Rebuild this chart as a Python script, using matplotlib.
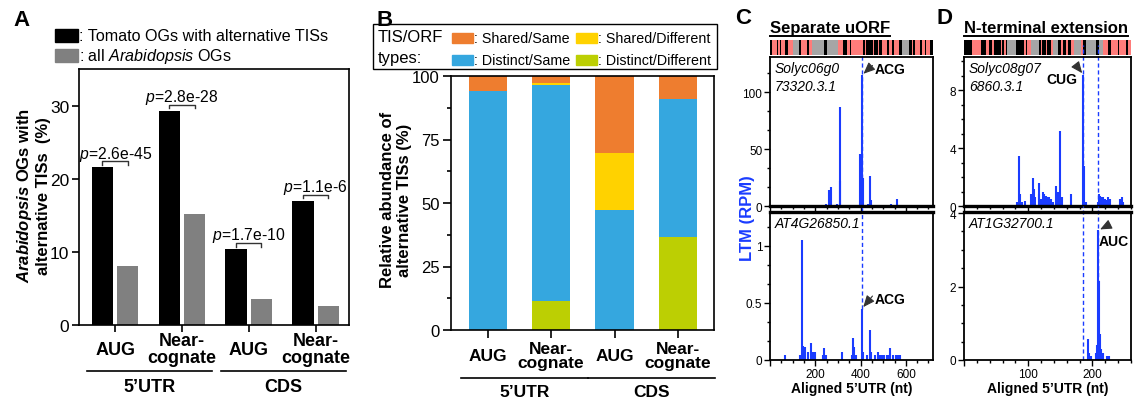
import matplotlib
matplotlib.use("Agg")
import matplotlib.pyplot as plt
import matplotlib.transforms as mtransforms
import numpy as np
from matplotlib.colors import ListedColormap
from matplotlib.lines import Line2D
from matplotlib.patches import Rectangle
from matplotlib.ticker import MultipleLocator, FuncFormatter

plt.rcParams['font.family'] = ['Liberation Sans', 'DejaVu Sans']
plt.rcParams['mathtext.fontset'] = 'custom'
plt.rcParams['mathtext.rm'] = 'Liberation Sans'
plt.rcParams['mathtext.it'] = 'Liberation Sans:italic'
plt.rcParams['mathtext.bf'] = 'Liberation Sans:bold'
plt.rcParams['mathtext.bfit'] = 'Liberation Sans:bold:italic'

W, H = 1135, 402

# ---- panel A data
a_codons = ['AUG', 'Near-\ncognate', 'AUG', 'Near-\ncognate']
a_regions = ['5\u2019UTR', 'CDS']
a_series = ['Tomato OGs with alternative TISs', 'all $Arabidopsis$ OGs']
a_tomato = [21.6, 29.3, 10.4, 17.0]
a_arabidopsis = [8.0, 15.2, 3.5, 2.6]
a_pvalues = ['2.6e-45', '2.8e-28', '1.7e-10', '1.1e-6']

# ---- panel B data (stacked from the bottom)
b_types = ['Distinct/Different', 'Distinct/Same', 'Shared/Different', 'Shared/Same']
b_distinct_diff = [0, 11.5, 0, 36.7]
b_distinct_same = [94.1, 84.8, 47.2, 54.3]
b_shared_diff = [0, 1.1, 22.4, 0]
b_shared_same = [5.9, 2.6, 30.4, 9.0]
b_colors = ['#bccf03', '#35a7df', '#ffd200', '#ee7d2f']

# ---- panel C data (separate uORF)
c_title = 'Separate uORF'
c_genes = ['Solyc06g0\n73320.3.1', 'AT4G26850.1']
c_tis = [406]
c_tis_codon = 'ACG'
c_sol_pos = [247, 259, 270, 296, 307, 310, 396, 400, 406, 410, 433, 443, 446, 536, 561]
c_sol_ltm = [2, 14, 17, 2, 87, 22, 45.6, 25, 115, 25, 2, 26.5, 5, 2, 5.9]
c_at_pos = [67, 132, 141, 147, 154, 170, 181, 188, 199, 236, 240, 247, 316, 361, 367, 373,
            381, 406, 412, 428, 441, 447, 462, 477, 484, 495, 505, 515, 525, 532, 545,
            555, 565, 575]
c_at_ltm = [0.04, 0.04, 1.05, 0.12, 0.11, 0.07, 0.15, 0.07, 0.07, 0.04, 0.105, 0.04, 0.07,
            0.04, 0.19, 0.11, 0.04, 0.45, 0.07, 0.04, 0.26, 0.07, 0.04, 0.07, 0.04, 0.04,
            0.04, 0.04, 0.04, 0.105, 0.04, 0.04, 0.04, 0.04]
c_strip = ''.join(['krrrkrkrrk', 'krrrggggkr', 'rrrkrrgggg', 'gggkkggggg', 'ggrrrkkrrk',
                   'rrrrrrrkrk', 'kkkrkkrkkr', 'rrkrrkrrrk', 'kggggkkrkr', 'rrkrrkrrkk'])

# ---- panel D data (N-terminal extension)
d_title = 'N-terminal extension'
d_genes = ['Solyc08g07\n6860.3.1', 'AT1G32700.1']
d_tis = [186, 209]
d_tis_codons = ['CUG', 'AUC']
d_sol_pos = [9, 30, 83, 86, 87.5, 90, 95, 105, 108, 109.5, 111, 116, 117, 120, 122.5, 125,
             128, 130, 133, 135.5, 138, 144, 146, 150, 152, 167, 186, 187.5, 189.5, 198,
             209, 210.5, 212, 214, 216, 218, 220, 222, 224, 226, 228, 243, 245.5, 248]
d_sol_ltm = [0.05, 0.05, 0.3, 3.45, 0.8, 0.3, 0.35, 0.8, 1.9, 1.2, 0.6, 1.6, 0.8, 0.5, 1.0,
             0.8, 0.7, 0.65, 0.6, 0.5, 0.3, 1.4, 1.0, 5.2, 0.6, 0.8, 9.05, 2.75, 0.3, 0.1,
             0.3, 0.85, 0.7, 0.6, 0.6, 0.5, 0.5, 0.4, 0.6, 0.3, 0.5, 0.5, 0.6, 0.3]
d_at_pos = [193, 194.5, 197.5, 206, 207.5, 209, 210.5, 212, 214, 216.5, 223, 225]
d_at_ltm = [0.57, 0.2, 0.1, 0.2, 0.4, 3.53, 2.15, 0.7, 0.3, 0.2, 0.1, 0.1]
d_strip = ''.join(['kkkkkrrrrr', 'kkkrrkkrkk', 'kkrkrkgggg', 'gkkkkkrkrr', 'gggggkrkkr',
                   'kkrgggkkrk', 'krkkrrgggg', 'rkkggggggk', 'kggrrrkkrr', 'rrkrrrrkrr'])

strip_keys = 'kgr'
strip_colors = ['#000000', '#a6a6a6', '#ff7c7a']
BLUE = '#1a3cff'

fig = plt.figure(figsize=(W / 100, H / 100), dpi=100)


def add_ax(left, top, right, bottom):
    # axes placed by the pixel edges of the reference
    return fig.add_axes([left / W, 1 - bottom / H, (right - left) / W, (bottom - top) / H])


def fig_text(x, y, s, **kw):
    return fig.text(x / W, 1 - y / H, s, **kw)


def fig_box(x0, y0, x1, y1, **kw):
    fig.add_artist(Rectangle((x0 / W, 1 - y1 / H), (x1 - x0) / W, (y1 - y0) / H,
                             transform=fig.transFigure, **kw))


def group_labels(ax, y_lab, y_line, y_reg, span, fs):
    tr = mtransforms.blended_transform_factory(ax.transData, ax.transAxes)
    for i, lab in enumerate(a_codons):
        ax.text(i, y_lab, lab, transform=tr, ha='center', va='center', fontsize=fs,
                fontweight='bold', linespacing=0.95)
    for r, reg in enumerate(a_regions):
        x0 = 2 * r - span[0]
        x1 = 2 * r + 1 + span[1]
        ax.add_line(Line2D([x0, x1], [y_line, y_line], transform=tr, color='black',
                           lw=1.2, clip_on=False))
        ax.text((x0 + x1) / 2, y_reg, reg, transform=tr, ha='center', va='center',
                fontsize=fs, fontweight='bold')


# ================= A
axA = add_ax(79, 70, 349, 326)
xa = np.arange(len(a_codons))
axA.bar(xa - 0.19, a_tomato, 0.32, color='black', zorder=2)
axA.bar(xa + 0.19, a_arabidopsis, 0.32, color='#808080', zorder=2)
axA.set_xlim(-0.54, 3.5)
axA.set_ylim(0, 35)
axA.set_yticks([0, 10, 20, 30])
axA.set_xticks(xa)
axA.set_xticklabels([])
axA.tick_params(direction='out', length=5, width=1.2, labelsize=12.5, pad=2)
for sp in axA.spines.values():
    sp.set_linewidth(1.2)
for i, p in enumerate(a_pvalues):
    yb = a_tomato[i] + 0.8
    axA.plot([i - 0.19, i - 0.19, i + 0.19, i + 0.19], [yb - 0.5, yb, yb, yb - 0.5],
             color='#333333', lw=1)
    axA.text(i, yb + 0.5, f'$p$={p}', ha='center', va='baseline', fontsize=11.3)
group_labels(axA, -0.094, -0.18, -0.242, (0.42, 0.45), 13)

fig_box(55, 30, 78, 43, color='black')
fig_box(55, 50, 78, 63, color='#808080')
fig_text(79, 36.5, ': ' + a_series[0], va='center', fontsize=11.6)
fig_text(79, 56.5, ': ' + a_series[1], va='center', fontsize=11.6)
fig_text(33, 196, r'$\mathbfit{Arabidopsis}$ OGs with' + '\n' + 'alternative TISs  (%)',
         rotation=90, ha='center', va='center', fontsize=12, fontweight='bold',
         linespacing=1.15)
fig_text(13, 26, 'A', fontsize=16, fontweight='bold', va='baseline')

# ================= B
axB = add_ax(451, 77, 714, 331)
xb = np.arange(len(a_codons))
bottom = np.zeros(len(xb))
for vals, col in zip([b_distinct_diff, b_distinct_same, b_shared_diff, b_shared_same], b_colors):
    axB.bar(xb, vals, 0.6, bottom=bottom, color=col, zorder=2)
    bottom += np.array(vals)
axB.set_xlim(-0.58, 3.57)
axB.set_ylim(0, 100)
axB.yaxis.set_major_locator(MultipleLocator(25))
axB.yaxis.set_minor_locator(MultipleLocator(12.5))
axB.set_xticks(xb)
axB.set_xticklabels([])
axB.tick_params(which='both', direction='out', width=1.2, labelsize=12, pad=2)
axB.tick_params(which='major', length=6)
axB.tick_params(which='minor', length=3)
for sp in axB.spines.values():
    sp.set_linewidth(1.2)
group_labels(axB, -0.1, -0.189, -0.244, (0.42, 0.58), 12.5)
fig_text(396, 200, 'Relative abundance of\nalternative TISs (%)', rotation=90, ha='center',
         va='center', fontsize=12, fontweight='bold', linespacing=1.1)

fig_box(373, 25, 717, 70, fill=False, edgecolor='black', lw=1)
fig_text(378, 48, 'TIS/ORF\ntypes:', va='center', ha='left', fontsize=12, linespacing=1.45)
for k, name in enumerate(b_types):
    row, col = (3 - k) // 2, (3 - k) % 2
    x0 = 452 + col * 124
    yc = 39 + row * 22
    fig_box(x0, yc - 5, x0 + 21, yc + 5, color=b_colors[k])
    fig_text(x0 + 22, yc, ': ' + name, va='center', fontsize=10.3)
fig_text(377, 26, 'B', fontsize=16, fontweight='bold', va='baseline')


# ================= C and D
def strip_axes(left, right, codes, xmax):
    ax = add_ax(left, 41, right, 56)
    arr = np.array([[strip_keys.index(c) for c in codes]])
    ax.imshow(arr, cmap=ListedColormap(strip_colors), vmin=0, vmax=2, aspect='auto',
              interpolation='nearest', extent=(0, xmax, 0, 1))
    ax.set_axis_off()
    return ax


def profile_axes(top, bottom, left, right, pos, val, ymax, ymaj, ymin, xmax, xmaj, xmin, upper):
    ax = add_ax(left, top, right, bottom)
    ax.vlines(pos, 0, val, color=BLUE, lw=1.5, zorder=2)
    ax.set_xlim(0, xmax)
    ax.set_ylim(0, ymax)
    ax.yaxis.set_major_locator(MultipleLocator(ymaj))
    ax.yaxis.set_minor_locator(MultipleLocator(ymin))
    ax.xaxis.set_major_locator(MultipleLocator(xmaj))
    ax.xaxis.set_minor_locator(MultipleLocator(xmin))
    ax.yaxis.set_major_formatter(FuncFormatter(lambda v, p: f'{v:g}'))
    ax.xaxis.set_major_formatter(FuncFormatter(lambda v, p: '' if v == 0 else f'{v:g}'))
    ax.tick_params(which='both', direction='out', width=1, labelsize=8.5, pad=1.5)
    ax.tick_params(which='major', length=4)
    ax.tick_params(which='minor', length=2.5)
    for sp in ax.spines.values():
        sp.set_linewidth(1.3)
    if upper:
        ax.tick_params(axis='x', labelbottom=False)
        ax.spines['bottom'].set_linewidth(2.4)
    else:
        ax.spines['top'].set_linewidth(2.4)
        ax.set_xlabel('Aligned 5\u2019UTR (nt)', fontsize=10, fontweight='bold', labelpad=1)
    return ax


def gene_label(ax, name):
    ax.text(0.03, 0.975, name, transform=ax.transAxes, ha='left', va='top', fontsize=10,
            style='italic', linespacing=1.4)


def mark_peak(ax, x, y, label, arrow_off, text_off, ha, va='center'):
    ax.annotate('', xy=(x, y), xytext=arrow_off, textcoords='offset points',
                arrowprops=dict(arrowstyle='-|>,head_length=0.7,head_width=0.3',
                                color='#333333', lw=0.8, shrinkA=0, shrinkB=1.5,
                                mutation_scale=10))
    ax.annotate(label, xy=(x, y), xytext=text_off, textcoords='offset points', ha=ha, va=va,
                fontsize=10, fontweight='bold')


def tis_line(ax, x, ymin, ymax):
    ax.axvline(x, ymin=ymin, ymax=ymax, color=BLUE, lw=1, ls=(0, (3, 2)), clip_on=False,
               zorder=1)


# C
c_xmax = 720
strip_axes(770, 933, c_strip, c_xmax)
axC1 = profile_axes(58, 207, 770, 933, c_sol_pos, c_sol_ltm, 131, 50, 50 / 3, c_xmax, 200, 50, True)
axC2 = profile_axes(213, 361, 770, 933, c_at_pos, c_at_ltm, 1.298, 0.5, 0.5 / 3, c_xmax, 200, 50, False)
gene_label(axC1, c_genes[0])
gene_label(axC2, c_genes[1])
for t in c_tis:
    h1 = c_sol_ltm[c_sol_pos.index(t)]
    h2 = c_at_ltm[c_at_pos.index(t)]
    tis_line(axC1, t, 0, 1 + 2 / 149)
    tis_line(axC2, t, h2 / 1.298, 1 + 6 / 148)
    mark_peak(axC1, t, h1, c_tis_codon, (7.6, 7), (9, 4.8), 'left')
    mark_peak(axC2, t, h2, c_tis_codon, (7.6, 9.1), (9, 7), 'left')
fig_text(735, 24, 'C', fontsize=16, fontweight='bold', va='baseline')
tC = fig_text(770, 33, c_title, fontsize=12, fontweight='bold', va='baseline')
fig_text(748, 218, 'LTM (RPM)', rotation=90, ha='center', va='center', fontsize=12,
         fontweight='bold', color=BLUE)

# D
d_xmax = 260
strip_axes(964, 1131, d_strip, d_xmax)
axD1 = profile_axes(58, 207, 964, 1131, d_sol_pos, d_sol_ltm, 10.28, 4, 1, d_xmax, 100, 20, True)
axD2 = profile_axes(213, 361, 964, 1131, d_at_pos, d_at_ltm, 4.03, 2, 0.5, d_xmax, 100, 20, False)
gene_label(axD1, d_genes[0])
gene_label(axD2, d_genes[1])
for t in d_tis:
    tis_line(axD1, t, 0, 1 + 12 / 149)
    tis_line(axD2, t, 0, 1 + 6 / 148)
t0, t1 = d_tis
mark_peak(axD1, t0, d_sol_ltm[d_sol_pos.index(t0)], d_tis_codons[0], (-4.9, 6.3), (-4.2, -3), 'right')
mark_peak(axD2, t1, d_at_ltm[d_at_pos.index(t1)], d_tis_codons[1], (8.3, 4.2), (0.5, -7.3), 'left')
fig_text(937, 24, 'D', fontsize=16, fontweight='bold', va='baseline')
tD = fig_text(964, 33, d_title, fontsize=12, fontweight='bold', va='baseline')

# underline the C / D titles
fig.canvas.draw()
for t in (tC, tD):
    bb = t.get_window_extent()
    y = (bb.y0 - 0.5) / H
    fig.add_artist(Line2D([bb.x0 / W, bb.x1 / W], [y, y], transform=fig.transFigure,
                          color='black', lw=1.4))

fig.savefig('out.png', dpi=100)
